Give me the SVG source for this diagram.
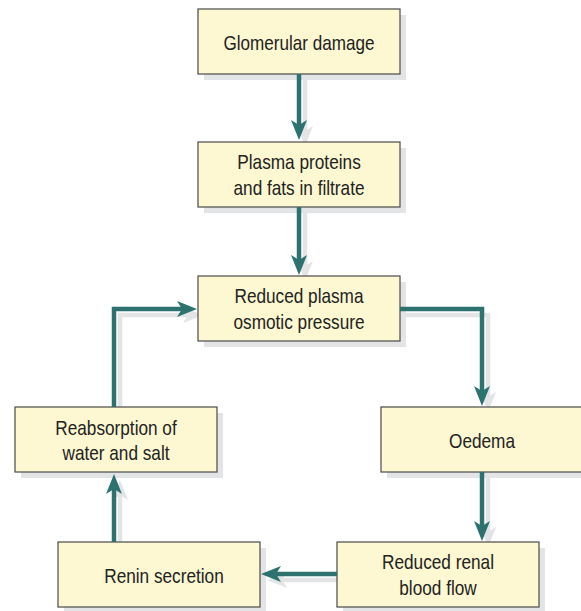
<svg xmlns="http://www.w3.org/2000/svg" width="581" height="611" viewBox="0 0 581 611">
<defs>
<style>
.box{fill:#fdf8d1;stroke:#4a4a4a;stroke-width:1.2}
.sh{fill:#e3e4e6}
.t{font-family:"Liberation Sans",Arial,sans-serif;font-size:21px;fill:#222;text-anchor:middle}
.c{fill:none;stroke:#2e7270;stroke-width:4.5}
.cs{fill:none;stroke:#e3e4e6;stroke-width:4.5}
</style>
<marker id="ah" viewBox="0 0 20 16" markerWidth="20" markerHeight="16" refX="10" refY="8" orient="auto" markerUnits="userSpaceOnUse">
<path d="M20,8 L0,0 L5,8 L0,16 Z" fill="#2e7270"/>
</marker>
<marker id="ahs" viewBox="0 0 20 16" markerWidth="20" markerHeight="16" refX="10" refY="8" orient="auto" markerUnits="userSpaceOnUse">
<path d="M20,8 L0,0 L5,8 L0,16 Z" fill="#e3e4e6"/>
</marker>
</defs>
<rect width="581" height="611" fill="#ffffff"/>
<g id="shadows">
<rect class="sh" x="204" y="15" width="202" height="65"/>
<rect class="sh" x="204" y="148" width="202" height="65"/>
<rect class="sh" x="204" y="282" width="202" height="65"/>
<rect class="sh" x="21" y="413" width="202" height="65"/>
<rect class="sh" x="387" y="413" width="202" height="65"/>
<rect class="sh" x="64" y="548" width="202" height="65"/>
<rect class="sh" x="343" y="548" width="202" height="65"/>
<g marker-end="url(#ahs)">
<path class="cs" d="M305,80 V136"/>
<path class="cs" d="M305,213 V271"/>
<path class="cs" d="M406,315 H488 V402"/>
<path class="cs" d="M488,478 V537"/>
<path class="cs" d="M343,580 H277"/>
<path class="cs" d="M120,548 V490"/>
<path class="cs" d="M120,413 V315 H193"/>
</g>
</g>
<g id="n1"><rect class="box" x="198" y="9" width="202" height="65"/><text class="t" x="299" y="49.5" textLength="151" lengthAdjust="spacingAndGlyphs">Glomerular damage</text></g>
<g id="n2"><rect class="box" x="198" y="142" width="202" height="65"/><text class="t" x="299" y="169" textLength="123.5" lengthAdjust="spacingAndGlyphs">Plasma proteins</text><text class="t" x="299" y="194.5" textLength="131" lengthAdjust="spacingAndGlyphs">and fats in filtrate</text></g>
<g id="n3"><rect class="box" x="198" y="276" width="202" height="65"/><text class="t" x="299" y="303" textLength="129" lengthAdjust="spacingAndGlyphs">Reduced plasma</text><text class="t" x="299" y="328.5" textLength="131" lengthAdjust="spacingAndGlyphs">osmotic pressure</text></g>
<g id="n4"><rect class="box" x="15" y="407" width="202" height="65"/><text class="t" x="116" y="434.5" textLength="121.4" lengthAdjust="spacingAndGlyphs">Reabsorption of</text><text class="t" x="116" y="460" textLength="107" lengthAdjust="spacingAndGlyphs">water and salt</text></g>
<g id="n5"><rect class="box" x="381" y="407" width="202" height="65"/><text class="t" x="482" y="447.5" textLength="66" lengthAdjust="spacingAndGlyphs">Oedema</text></g>
<g id="n6"><rect class="box" x="58" y="542" width="202" height="65"/><text class="t" x="164" y="583" textLength="119.5" lengthAdjust="spacingAndGlyphs">Renin secretion</text></g>
<g id="n7"><rect class="box" x="337" y="542" width="202" height="65"/><text class="t" x="438" y="569" textLength="112" lengthAdjust="spacingAndGlyphs">Reduced renal</text><text class="t" x="438" y="594.5" textLength="77.4" lengthAdjust="spacingAndGlyphs">blood flow</text></g>
<g id="connectors" marker-end="url(#ah)">
<path class="c" d="M299,74 V130"/>
<path class="c" d="M299,207 V265"/>
<path class="c" d="M400,309 H482 V396"/>
<path class="c" d="M482,472 V531"/>
<path class="c" d="M337,574 H271"/>
<path class="c" d="M114,542 V484"/>
<path class="c" d="M114,407 V309 H187"/>
</g>
</svg>
